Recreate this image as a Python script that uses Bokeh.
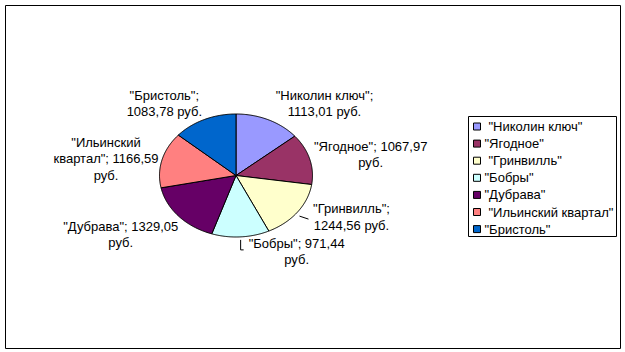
import textwrap
import numpy as np
from bokeh.plotting import figure
from bokeh.models import Range1d, ColumnDataSource
from bokeh.core.properties import value
from bokeh.embed import file_html
from bokeh.resources import INLINE

# ---- data ----
names = ["Николин ключ", "Ягодное", "Гринвилль", "Бобры", "Дубрава", "Ильинский квартал", "Бристоль"]
legend_names = [' "Николин ключ"', '"Ягодное"', ' "Гринвилль"', '"Бобры"', '"Дубрава"',
                ' "Ильинский квартал"', '"Бристоль"']
values = [1113.01, 1067.97, 1244.56, 971.44, 1329.05, 1166.59, 1083.78]
unit = "руб."

# ---- style / layout ----
colors = ["#9999FF", "#993366", "#FFFFCC", "#CCFFFF", "#660066", "#FF8080", "#0066CC"]
wrap_widths = [15, 18, 12, 15, 18, 17, 12]
label_offsets = [(56, -16), (61, -4), (54, 5), (56, 15), (-58, 18), (-56, -1), (-40, -16)]
FONT = value("Liberation Sans")
FS = "13px"
cx, cy, rx, ry = 235.5, 175.0, 76.5, 61.5

p = figure(width=625, height=352, x_range=Range1d(5, 620), y_range=Range1d(348, 5),
           min_border_left=5, min_border_right=5, min_border_top=5, min_border_bottom=4,
           x_axis_location=None, y_axis_location=None,
           toolbar_location=None, output_backend="svg")
p.grid.visible = False
p.outline_line_color = "black"
p.outline_line_width = 1
p.background_fill_color = "white"
p.border_fill_color = "white"

vals = np.array(values)
frac = vals / vals.sum()
ends = np.cumsum(frac) * 2 * np.pi
starts = ends - frac * 2 * np.pi
mids = (starts + ends) / 2

xs, ys = [], []
for s, e in zip(starts, ends):
    t = np.linspace(s, e, 80)
    xs.append([cx] + list(cx + rx * np.sin(t)))
    ys.append([cy] + list(cy - ry * np.cos(t)))
p.patches(xs="xs", ys="ys", fill_color="color", line_color="black", line_width=1,
          source=ColumnDataSource(dict(xs=xs, ys=ys, color=colors)))

# data labels
lx, ly, lt = [], [], []
ax_, ay_ = [], []
for i, (n, v) in enumerate(zip(names, values)):
    s = f'"{n}"; ' + f"{v:.2f}".replace(".", ",") + " " + unit
    lt.append("\n".join(textwrap.wrap(s, wrap_widths[i])))
    axp = cx + rx * np.sin(mids[i])
    ayp = cy - ry * np.cos(mids[i])
    ax_.append(axp); ay_.append(ayp)
    lx.append(axp + label_offsets[i][0]); ly.append(ayp + label_offsets[i][1])
p.text(x="x", y="y", text="t", source=ColumnDataSource(dict(x=lx, y=ly, t=lt)),
       text_align="center", text_baseline="middle", text_font=FONT, text_font_size=FS,
       text_line_height=1.08, text_color="black")

# leader lines (Гринвилль, Бобры)
p.line([ax_[2] + 2, ax_[2] + 11], [ay_[2] + 4, ay_[2] + 7], line_color="black", line_width=1)
p.line([ax_[3], ax_[3], ax_[3] + 3], [ay_[3] + 3, ay_[3] + 13, ay_[3] + 13], line_color="black", line_width=1)

# legend
lg_left, lg_right, lg_top, lg_bottom = 468, 616, 116, 236
p.quad(left=[lg_left], right=[lg_right], top=[lg_top], bottom=[lg_bottom],
       fill_color="white", line_color="black", line_width=1)
row_y = [126 + 17.1 * i for i in range(len(names))]
p.rect(x=[476.5] * len(names), y=row_y, width=7, height=7, fill_color=colors,
       line_color="black", line_width=1)
# leading spaces are rendered as a small indent (SVG collapses leading whitespace)
leg_x = [484 + 4 * (len(t) - len(t.lstrip())) for t in legend_names]
leg_t = [t.lstrip() for t in legend_names]
p.text(x=leg_x, y=row_y, text=leg_t, text_align="left",
       text_baseline="middle", text_font=FONT, text_font_size=FS, text_color="black")

open("out.html", "w").write(file_html(p, INLINE))
